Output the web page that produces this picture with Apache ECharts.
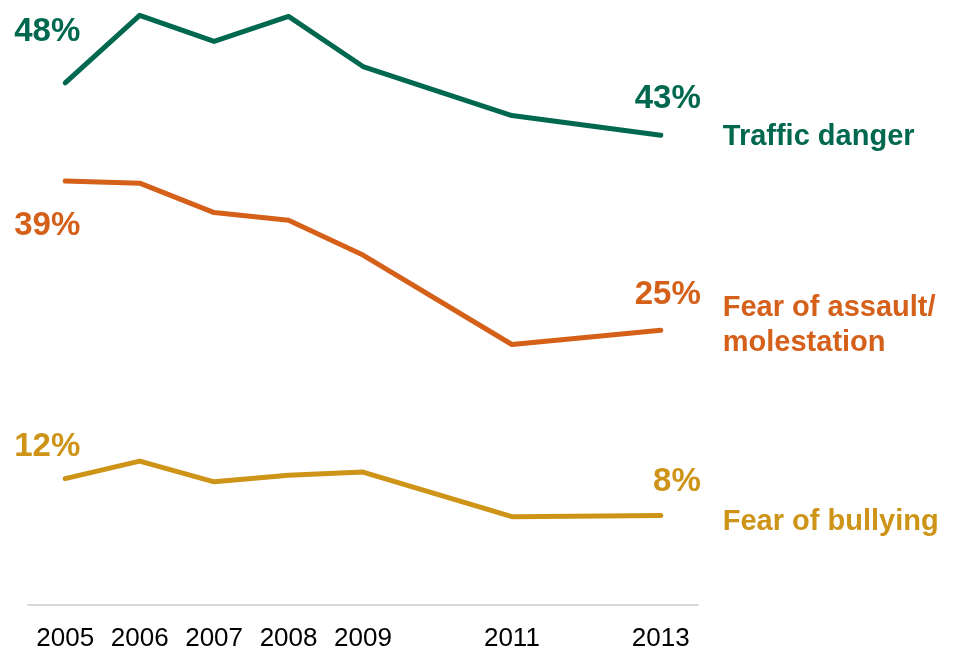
<!DOCTYPE html>
<html>
<head>
<meta charset="utf-8">
<script src="https://cdn.jsdelivr.net/npm/echarts@6/dist/echarts.min.js"></script>
<style>
  html, body { margin: 0; padding: 0; background: #ffffff; }
  #chart { width: 959px; height: 653px; }
</style>
</head>
<body>
<div id="chart"></div>
<script>
const years = ['2005', '2006', '2007', '2008', '2009', '2010', '2011', '2012', '2013'];
const yearLabels = ['2005', '2006', '2007', '2008', '2009', '', '2011', '', '2013'];
const trafficDanger = [47.9, 54.1, 51.7, 54.0, 49.4, null, 44.9, null, 43.1];
const fearAssault = [38.9, 38.7, 36.0, 35.3, 32.1, null, 23.9, null, 25.2];
const fearBullying = [11.6, 13.2, 11.3, 11.9, 12.2, null, 8.1, null, 8.2];
const seriesNames = ['Traffic danger', 'Fear of assault/\nmolestation', 'Fear of bullying'];

const FONT = "'Liberation Sans', Arial, sans-serif";
const colors = ['#00684F', '#D4601A', '#CD9417'];

// label offsets (first point, last point) per series
const firstOffsets = [[-18, -51], [-18, 45], [-18, -32]];
const lastOffsets = [[40, -36], [40, -35.5], [40, -34]];
const nameOffsets = [[62, 2], [62, -5], [62, 6]];

function buildData(values, idx) {
  const lastIdx = values.length - 1;
  return values.map(function (v, i) {
    if (v === null) return null;
    if (i === 0) {
      return {
        value: v,
        label: {
          show: true, position: 'inside', align: 'center', verticalAlign: 'middle',
          offset: firstOffsets[idx]
        }
      };
    }
    if (i === lastIdx) {
      return {
        value: v,
        label: {
          show: true, position: 'inside', align: 'right', verticalAlign: 'middle',
          offset: lastOffsets[idx]
        }
      };
    }
    return v;
  });
}

function makeSeries(values, idx) {
  return {
    name: seriesNames[idx],
    type: 'line',
    data: buildData(values, idx),
    connectNulls: true,
    symbol: 'circle',
    symbolSize: 1,
    itemStyle: { color: colors[idx] },
    lineStyle: { color: colors[idx], width: 5, cap: 'round', join: 'round' },
    label: {
      show: false,
      color: colors[idx],
      fontFamily: FONT,
      fontWeight: 'bold',
      fontSize: 33,
      formatter: function (p) { return Math.round(p.value) + '%'; }
    },
    endLabel: {
      show: true,
      formatter: function () { return seriesNames[idx]; },
      color: colors[idx],
      fontFamily: FONT,
      fontWeight: 'bold',
      fontSize: 29,
      lineHeight: 35,
      distance: 0,
      align: 'left',
      verticalAlign: 'middle',
      offset: nameOffsets[idx]
    },
    emphasis: { disabled: true }
  };
}

const chart = echarts.init(document.getElementById('chart'), null, { renderer: 'canvas' });
chart.setOption({
  animation: false,
  backgroundColor: '#ffffff',
  grid: { left: 28, right: 261, top: 5.5, bottom: 48, containLabel: false },
  xAxis: {
    type: 'category',
    data: years,
    boundaryGap: true,
    axisLine: { show: true, lineStyle: { color: '#d9d9d9', width: 2 } },
    axisTick: { show: false },
    axisLabel: {
      color: '#000000',
      fontFamily: FONT,
      fontSize: 26,
      margin: 21,
      interval: 0,
      formatter: function (v, i) { return yearLabels[i]; }
    },
    splitLine: { show: false }
  },
  yAxis: {
    type: 'value',
    min: 0,
    max: 55,
    show: false,
    splitLine: { show: false }
  },
  series: [
    makeSeries(trafficDanger, 0),
    makeSeries(fearAssault, 1),
    makeSeries(fearBullying, 2)
  ]
});
</script>
</body>
</html>
